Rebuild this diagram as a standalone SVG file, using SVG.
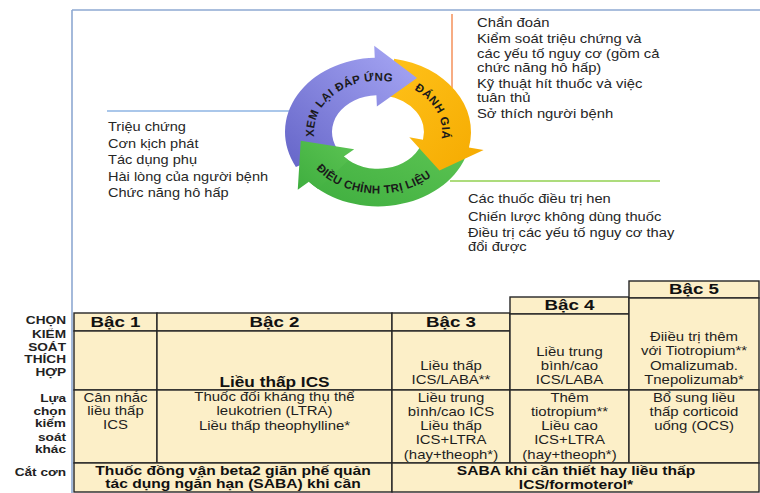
<svg xmlns="http://www.w3.org/2000/svg" width="760" height="493" viewBox="0 0 760 493">
<defs>
<linearGradient id="gBlue" x1="0" y1="1" x2="1" y2="0"><stop offset="0" stop-color="#6565c8"/><stop offset="1" stop-color="#a9a9f6"/></linearGradient>
<linearGradient id="gOrange" x1="0" y1="0" x2="1" y2="1"><stop offset="0" stop-color="#ffc21a"/><stop offset="1" stop-color="#f5aa00"/></linearGradient>
<linearGradient id="gGreen" x1="1" y1="0" x2="0" y2="1"><stop offset="0" stop-color="#5cc453"/><stop offset="1" stop-color="#3fae3f"/></linearGradient>
<path id="tpBlue" d="M 322.58 157.6 A 64 51.2 0 0 1 413.79 89.56"/>
<path id="tpOrange" d="M 399.89 83.89 A 64 51.2 0 0 1 436.0 153.64"/>
<path id="tpGreen" d="M 305.64 153.07 A 77 61.6 0 0 0 444.68 162.8"/>
</defs>
<style>
text{font-family:"Liberation Sans",Arial,sans-serif;fill:#262626}
.lst{font-size:13px}
.arc{font-size:11.5px;font-weight:bold;fill:#1a1a1a;letter-spacing:0.4px}
.lbl{font-size:10.5px;font-weight:bold;text-anchor:end;fill:#222}
.cell{fill:#fcefc8;stroke:#262626;stroke-width:1.4}
.hd{font-size:15px;font-weight:bold;text-anchor:middle;fill:#111}
.ct{font-size:13px;text-anchor:middle;fill:#1e1e1e}
.cb{font-size:13px;font-weight:bold;text-anchor:middle;fill:#111}
.frame{stroke:#8ea9d2;stroke-width:1.6;fill:none}
</style>
<rect width="760" height="493" fill="#ffffff"/>
<g id="frame"><path class="frame" d="M72 10 H760 M72 10 V493"/></g>

<g id="connectors" fill="none" stroke-width="1.5">
<path d="M107 111 H290" stroke="#8eb4e3"/>
<path d="M452 14 V88" stroke="#f4915a"/>
<path d="M450 181 H660" stroke="#92d050"/>
</g>

<g id="cycle">
<g transform="translate(378,132) scale(1,0.8)">
<path id="arrow-adjust-body" fill="url(#gGreen)" d="M 87.39 31.81 A 93 93 0 0 1 -69.11 62.23 L -34.18 30.78 A 46 46 0 0 0 43.23 15.73 Z"/>
<path id="arrow-assess" fill="url(#gOrange)" d="M 16.15 -91.59 A 93 93 0 0 1 90.96 19.33 L 105.63 22.45 L 61.47 48.02 L 31.30 6.65 L 44.99 9.56 A 46 46 0 0 0 7.99 -45.30 Z"/>
<path id="arrow-review" fill="url(#gBlue)" d="M -82.11 43.66 A 93 93 0 0 1 -3.25 -92.94 L -3.77 -107.94 L 39 -67.55 L -1.12 -31.98 L -1.61 -45.97 A 46 46 0 0 0 -40.61 21.60 Z"/>
<path id="arrow-adjust-head" fill="url(#gGreen)" d="M -59.78 71.24 A 93 93 0 0 1 -69.11 62.23 L -80.25 72.26 L -77.24 10.86 L -23.78 21.41 L -34.18 30.78 A 46 46 0 0 0 -29.57 35.24 Z"/>
</g>
<text class="arc"><textPath href="#tpBlue" startOffset="50%" text-anchor="middle">XEM LẠI ĐÁP ỨNG</textPath></text>
<text class="arc"><textPath href="#tpOrange" startOffset="50%" text-anchor="middle">ĐÁNH GIÁ</textPath></text>
<text class="arc"><textPath href="#tpGreen" startOffset="50%" text-anchor="middle">ĐIỀU CHỈNH TRỊ LIỆU</textPath></text>
</g>

<g id="list-review" class="lst" transform="translate(108 0) scale(1.12 1)">
<text x="0" y="131.5">Triệu chứng</text>
<text x="0" y="148">Cơn kịch phát</text>
<text x="0" y="164.5">Tác dụng phụ</text>
<text x="0" y="181">Hài lòng của người bệnh</text>
<text x="0" y="197.5">Chức năng hô hấp</text>
</g>
<g id="list-assess" class="lst" transform="translate(477 0) scale(1.14 1)">
<text x="0" y="27">Chẩn đoán</text>
<text x="0" y="43.5">Kiểm soát triệu chứng và</text>
<text x="0" y="58">các yếu tố nguy cơ (gồm cả</text>
<text x="0" y="72">chức năng hô hấp)</text>
<text x="0" y="88">Kỹ thuật hít thuốc và việc</text>
<text x="0" y="102">tuân thủ</text>
<text x="0" y="118">Sở thích người bệnh</text>
</g>
<g id="list-adjust" class="lst" transform="translate(468 0) scale(1.13 1)">
<text x="0" y="203.5">Các thuốc điều trị hen</text>
<text x="0" y="221">Chiến lược không dùng thuốc</text>
<text x="0" y="237.5">Điều trị các yếu tố nguy cơ thay</text>
<text x="0" y="251.5">đổi được</text>
</g>

<g id="row-labels" transform="translate(66 0) scale(1.3 1)">
<text class="lbl" x="0" y="324">CHỌN</text>
<text class="lbl" x="0" y="338">KIỂM</text>
<text class="lbl" x="0" y="351">SOÁT</text>
<text class="lbl" x="0" y="363.5">THÍCH</text>
<text class="lbl" x="0" y="376">HỢP</text>
<text class="lbl" x="0" y="402">Lựa</text>
<text class="lbl" x="0" y="415">chọn</text>
<text class="lbl" x="0" y="427.5">kiểm</text>
<text class="lbl" x="0" y="441">soát</text>
<text class="lbl" x="0" y="453.5">khác</text>
<text class="lbl" x="0" y="476">Cắt cơn</text>
</g>

<g id="step1">
<rect class="cell" x="74" y="313" width="83" height="18"/>
<rect class="cell" x="74" y="331" width="83" height="59"/>
<rect class="cell" x="74" y="390" width="83" height="73"/>
<g transform="translate(115.5 0) scale(1.25 1)"><text class="hd" x="0" y="327.5">Bậc 1</text></g>
<g transform="translate(115.5 0) scale(1.15 1)">
<text class="ct" x="0" y="402">Cân nhắc</text>
<text class="ct" x="0" y="415.5">liều  thấp</text>
<text class="ct" x="0" y="429">ICS</text>
</g>
</g>
<g id="step2">
<rect class="cell" x="157" y="313" width="235" height="18"/>
<rect class="cell" x="157" y="331" width="235" height="59"/>
<rect class="cell" x="157" y="390" width="235" height="73"/>
<g transform="translate(274.5 0) scale(1.25 1)"><text class="hd" x="0" y="327.5">Bậc 2</text></g>
<g transform="translate(274.5 0) scale(1.15 1)">
<text class="cb" x="0" y="387" style="font-size:15px">Liều thấp ICS</text>
<text class="ct" x="0" y="401.5">Thuốc đối kháng thụ thể</text>
<text class="ct" x="0" y="415">leukotrien (LTRA)</text>
<text class="ct" x="0" y="430">Liều thấp theophylline*</text>
</g>
</g>
<g id="step3">
<rect class="cell" x="392" y="313" width="118" height="18"/>
<rect class="cell" x="392" y="331" width="118" height="59"/>
<rect class="cell" x="392" y="390" width="118" height="73"/>
<g transform="translate(451 0) scale(1.25 1)"><text class="hd" x="0" y="327.5">Bậc 3</text></g>
<g transform="translate(451 0) scale(1.15 1)">
<text class="ct" x="0" y="370">Liều thấp</text>
<text class="ct" x="0" y="384.5">ICS/LABA**</text>
<text class="ct" x="0" y="402">Liều trung</text>
<text class="ct" x="0" y="416">bình/cao ICS</text>
<text class="ct" x="0" y="430">Liều thấp</text>
<text class="ct" x="0" y="444.5">ICS+LTRA</text>
<text class="ct" x="0" y="459">(hay+theoph*)</text>
</g>
</g>
<g id="step4">
<rect class="cell" x="510" y="297" width="119" height="17"/>
<rect class="cell" x="510" y="314" width="119" height="76"/>
<rect class="cell" x="510" y="390" width="119" height="73"/>
<g transform="translate(569.5 0) scale(1.25 1)"><text class="hd" x="0" y="310.5">Bậc 4</text></g>
<g transform="translate(569.5 0) scale(1.15 1)">
<text class="ct" x="0" y="356.5">Liều trung</text>
<text class="ct" x="0" y="370.5">bình/cao</text>
<text class="ct" x="0" y="384.5">ICS/LABA</text>
<text class="ct" x="0" y="402">Thêm</text>
<text class="ct" x="0" y="416">tiotropium**</text>
<text class="ct" x="0" y="430">Liều cao</text>
<text class="ct" x="0" y="444.5">ICS+LTRA</text>
<text class="ct" x="0" y="459">(hay+theoph*)</text>
</g>
</g>
<g id="step5">
<rect class="cell" x="629" y="281" width="130" height="17"/>
<rect class="cell" x="629" y="298" width="130" height="92"/>
<rect class="cell" x="629" y="390" width="130" height="73"/>
<g transform="translate(694 0) scale(1.25 1)"><text class="hd" x="0" y="294.5">Bậc 5</text></g>
<g transform="translate(694 0) scale(1.15 1)">
<text class="ct" x="0" y="341">Điiều trị thêm</text>
<text class="ct" x="0" y="355.5">với Tiotropium**</text>
<text class="ct" x="0" y="370">Omalizumab.</text>
<text class="ct" x="0" y="384.5">Tnepolizumab*</text>
<text class="ct" x="0" y="402">Bổ sung liều</text>
<text class="ct" x="0" y="416">thấp corticoid</text>
<text class="ct" x="0" y="430">uống (OCS)</text>
</g>
</g>
<g id="reliever">
<rect class="cell" x="74" y="463" width="318" height="29"/>
<rect class="cell" x="392" y="463" width="367" height="29"/>
<g transform="translate(233 0) scale(1.2 1)">
<text class="cb" x="0" y="475.5">Thuốc đồng vận beta2 giãn phế quản</text>
<text class="cb" x="0" y="488.5">tác dụng ngắn hạn (SABA) khi cần</text>
</g>
<g transform="translate(576 0) scale(1.2 1)">
<text class="cb" x="0" y="475.5">SABA khi cần thiết hay liều thấp</text>
<text class="cb" x="0" y="489">ICS/formoterol*</text>
</g>
</g>
</svg>
